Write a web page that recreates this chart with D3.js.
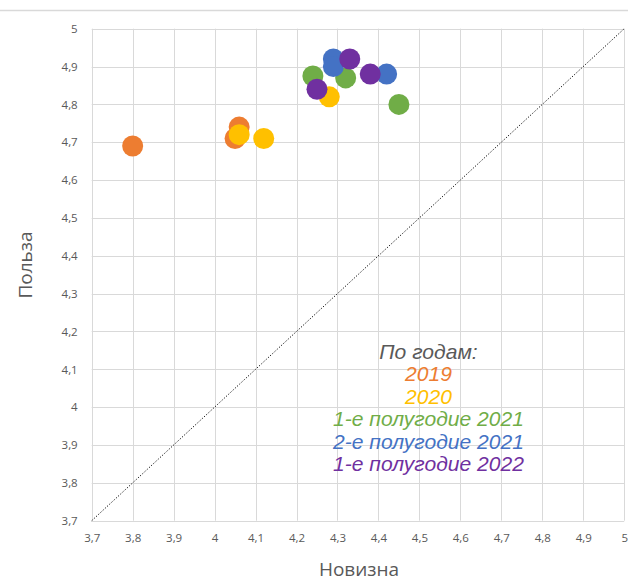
<!DOCTYPE html>
<html>
<head>
<meta charset="utf-8">
<script src="https://cdn.jsdelivr.net/npm/d3@7"></script>
<style>
  html, body { margin: 0; padding: 0; background: #fff; }
  svg { display: block; }
</style>
</head>
<body>
<svg id="chart" width="628" height="583"></svg>
<script>
// ---- data ----
const seriesNames = ["2019", "2020", "1-е полугодие 2021", "2-е полугодие 2021", "1-е полугодие 2022"];
const seriesColors = ["#ED7D31", "#FFC000", "#70AD47", "#4472C4", "#7030A0"];
const novelty2019 = [3.80, 4.06, 4.05];
const benefit2019 = [4.69, 4.74, 4.71];
const novelty2020 = [4.06, 4.12, 4.28];
const benefit2020 = [4.72, 4.71, 4.82];
const noveltyH1_2021 = [4.24, 4.32, 4.45];
const benefitH1_2021 = [4.875, 4.87, 4.80];
const noveltyH2_2021 = [4.29, 4.29, 4.42];
const benefitH2_2021 = [4.92, 4.90, 4.88];
const noveltyH1_2022 = [4.33, 4.38, 4.25];
const benefitH1_2022 = [4.92, 4.88, 4.84];
const tickValues = [3.7, 3.8, 3.9, 4.0, 4.1, 4.2, 4.3, 4.4, 4.5, 4.6, 4.7, 4.8, 4.9, 5.0];
const legendTitle = "По годам:";
const xTitle = "Новизна";
const yTitle = "Польза";

const seriesX = [novelty2019, novelty2020, noveltyH1_2021, noveltyH2_2021, noveltyH1_2022];
const seriesY = [benefit2019, benefit2020, benefitH1_2021, benefitH2_2021, benefitH1_2022];

// ---- layout ----
const svg = d3.select("#chart");
const pLeft = 91.7, pRight = 624.2, pTop = 28.7, pBottom = 520.7;
const x = d3.scaleLinear().domain([3.7, 5]).range([pLeft, pRight]);
const y = d3.scaleLinear().domain([3.7, 5]).range([pBottom, pTop]);
const fmt = v => d3.format(".1~f")(v).replace(".", ",");
const font = "'Open Sans', 'Noto Sans', sans-serif";
const legendFont = "'Liberation Sans', Arial, sans-serif";

// outer chart frame line
svg.append("line").attr("x1", 0).attr("x2", 628).attr("y1", 10.5).attr("y2", 10.5)
  .attr("stroke", "#d9d9d9").attr("stroke-width", 1.5);

// gridlines
const grid = svg.append("g");
grid.selectAll("line.v").data(tickValues).join("line")
  .attr("x1", d => Math.round(x(d)) + 0.5).attr("x2", d => Math.round(x(d)) + 0.5)
  .attr("y1", pTop).attr("y2", pBottom)
  .attr("stroke", "#d9d9d9").attr("stroke-width", 1);
grid.selectAll("line.h").data(tickValues).join("line")
  .attr("y1", d => Math.round(y(d)) + 0.5).attr("y2", d => Math.round(y(d)) + 0.5)
  .attr("x1", pLeft).attr("x2", pRight)
  .attr("stroke", "#d9d9d9").attr("stroke-width", 1);

// axes (labels only)
const xAxis = d3.axisBottom(x).tickValues(tickValues).tickFormat(fmt).tickSize(0).tickPadding(13);
const gx = svg.append("g").attr("transform", `translate(0,${pBottom})`).call(xAxis);
gx.select(".domain").remove();
gx.selectAll("text").attr("fill", "#595959").attr("font-size", 11.5).attr("font-family", font);

const yAxis = d3.axisLeft(y).tickValues(tickValues).tickFormat(fmt).tickSize(0).tickPadding(14);
const gy = svg.append("g").attr("transform", `translate(${pLeft},0)`).call(yAxis);
gy.select(".domain").remove();
gy.selectAll("text").attr("fill", "#595959").attr("font-size", 11.5).attr("font-family", font);

// diagonal dotted line
svg.append("line")
  .attr("x1", x(3.7)).attr("y1", y(3.7)).attr("x2", x(5)).attr("y2", y(5))
  .attr("stroke", "#000").attr("stroke-width", 1).attr("stroke-dasharray", "1.2,1.8");

// points
seriesNames.forEach((name, i) => {
  const pts = seriesX[i].map((v, j) => [v, seriesY[i][j]]);
  svg.append("g").selectAll("circle").data(pts).join("circle")
    .attr("cx", d => x(d[0])).attr("cy", d => y(d[1])).attr("r", 10.5)
    .attr("fill", seriesColors[i]);
});

// axis titles
svg.append("text").attr("x", 359).attr("y", 576)
  .attr("text-anchor", "middle").attr("font-family", font).attr("font-size", 19)
  .attr("fill", "#595959").text(xTitle);
svg.append("text").attr("transform", `translate(32,265) rotate(-90)`)
  .attr("text-anchor", "middle").attr("font-family", font).attr("font-size", 19)
  .attr("fill", "#595959").text(yTitle);

// legend text
const lx = 428.5;
const lg = svg.append("g");
lg.append("text").attr("x", 0).attr("y", 359.5).attr("text-anchor", "middle")
  .attr("font-family", legendFont).attr("font-style", "italic").attr("font-size", 20)
  .attr("fill", "#595959").text(legendTitle);
seriesNames.forEach((name, i) => {
  lg.append("text").attr("x", 0).attr("y", 381.5 + i * 22.5).attr("text-anchor", "middle")
    .attr("font-family", legendFont).attr("font-style", "italic").attr("font-size", 20)
    .attr("fill", seriesColors[i]).text(name);
});
// widen horizontally so the longest line spans ~191px like the reference
const widest = d3.max(lg.selectAll("text").nodes(), n => n.getComputedTextLength());
const sx = 191 / widest;
lg.attr("transform", `translate(${lx},0) scale(${sx},1)`);
</script>
</body>
</html>
